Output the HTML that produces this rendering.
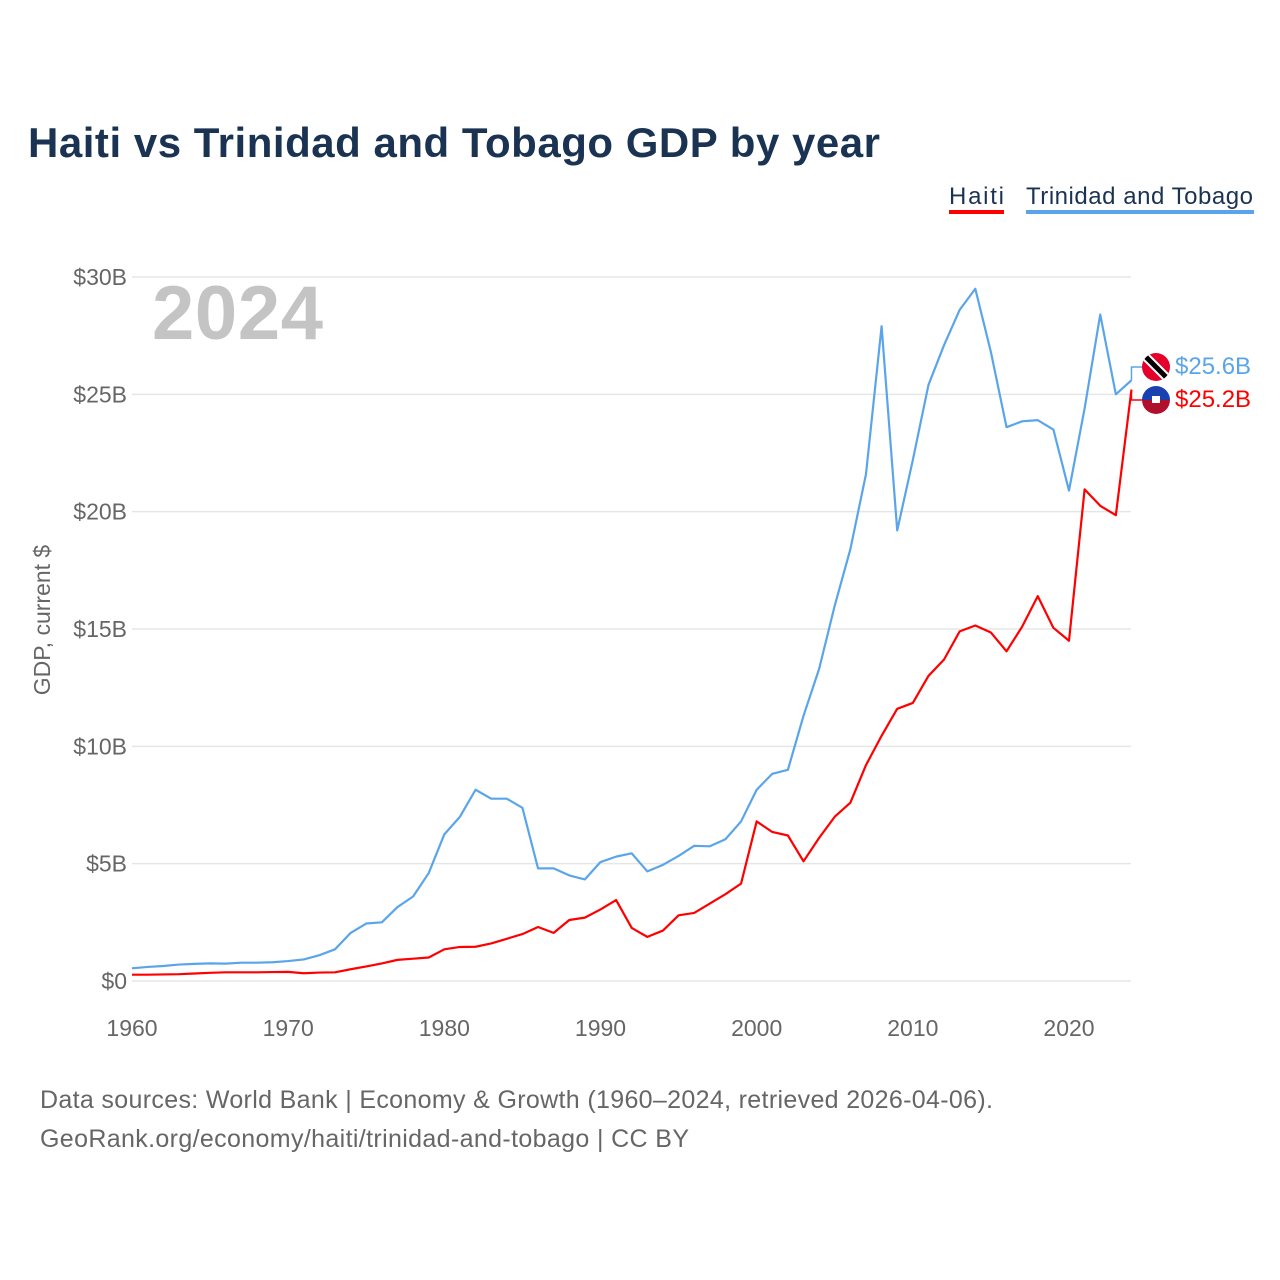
<!DOCTYPE html>
<html><head><meta charset="utf-8"><style>
body{margin:0;background:#fff;font-family:"Liberation Sans",sans-serif}
#wrap{position:relative;width:1280px;height:1280px;overflow:hidden}
</style></head><body>
<div id="wrap">
<svg id="chart" width="1280" height="1280" style="font-family:'Liberation Sans',sans-serif">
<text x="28" y="157" font-size="42" font-weight="bold" fill="#1b3352" textLength="852">Haiti vs Trinidad and Tobago GDP by year</text>
<g>
<text x="949" y="204" font-size="24" fill="#1b3352" textLength="55">Haiti</text>
<rect x="949" y="210" width="55" height="4" fill="#ff0000"/>
<text x="1026" y="204" font-size="24" fill="#1b3352" textLength="227">Trinidad and Tobago</text>
<rect x="1026" y="210" width="228" height="4" fill="#5aa5ea"/>
</g>
<text x="152" y="339" font-size="76" font-weight="bold" fill="#c4c4c4" textLength="171">2024</text>
<text transform="translate(50,620) rotate(-90)" text-anchor="middle" font-size="23" fill="#666">GDP, current $</text>
<g id="grid"></g><g id="series"></g><g id="ends"></g>
<text x="40" y="1108" font-size="25" fill="#666" textLength="953">Data sources: World Bank | Economy &amp; Growth (1960–2024, retrieved 2026-04-06).</text>
<text x="40" y="1147" font-size="25" fill="#666" textLength="649">GeoRank.org/economy/haiti/trinidad-and-tobago | CC BY</text>
</svg>
</div>
<script>
const years=[];for(let y=1960;y<=2024;y++)years.push(y);
const haiti=[0.27,0.27,0.28,0.29,0.32,0.35,0.37,0.37,0.37,0.38,0.39,0.33,0.36,0.37,0.5,0.62,0.75,0.9,0.95,1.0,1.35,1.45,1.46,1.6,1.8,2.0,2.3,2.05,2.6,2.7,3.05,3.45,2.26,1.88,2.15,2.8,2.9,3.3,3.7,4.15,6.8,6.35,6.2,5.1,6.1,7.0,7.6,9.2,10.45,11.6,11.85,13.0,13.7,14.9,15.15,14.85,14.05,15.1,16.4,15.05,14.5,20.95,20.25,19.85,25.2];
const trinidad=[0.54,0.6,0.64,0.7,0.73,0.75,0.74,0.78,0.78,0.8,0.85,0.92,1.1,1.35,2.05,2.45,2.5,3.15,3.6,4.6,6.25,7.0,8.15,7.77,7.77,7.38,4.8,4.8,4.5,4.33,5.07,5.3,5.44,4.67,4.95,5.33,5.76,5.74,6.04,6.8,8.15,8.83,9.0,11.3,13.3,16.0,18.4,21.6,27.9,19.2,22.2,25.4,27.1,28.6,29.5,26.8,23.6,23.85,23.9,23.5,20.9,24.4,28.4,25.0,25.6];
const yTicks=[0,5,10,15,20,25,30];
const yTickLabels=["$0","$5B","$10B","$15B","$20B","$25B","$30B"];
const xTicks=[1960,1970,1980,1990,2000,2010,2020];
const ns="http://www.w3.org/2000/svg";
const X=y=>132+(y-1960)*(937/60);
const Y=v=>981-v*(704/30);
function mk(t,a,p){const e=document.createElementNS(ns,t);for(const k in a)e.setAttribute(k,a[k]);p.appendChild(e);return e;}
const grid=document.getElementById('grid');
yTicks.forEach((v,i)=>{
 const l=mk('line',{x1:132,x2:1131,y1:Y(v),y2:Y(v),stroke:'#e6e6e6','stroke-width':1.5},grid);
 
 
 const t=mk('text',{x:127,y:Y(v)+8,'text-anchor':'end','font-size':23,fill:'#666'},grid);
 t.textContent=yTickLabels[i];
 
 
});
xTicks.forEach(v=>{
 const t=mk('text',{x:X(v),y:1036,'text-anchor':'middle','font-size':23,fill:'#666'},grid);
 t.textContent=v;
 
 
});
const s=document.getElementById('series');
const pb=mk('polyline',{points:years.map((y,i)=>X(y)+','+Y(trinidad[i])).join(' '),fill:'none',stroke:'#5aa5ea','stroke-width':2.2,'stroke-linejoin':'round'},s);


const pr=mk('polyline',{points:years.map((y,i)=>X(y)+','+Y(haiti[i])).join(' '),fill:'none',stroke:'#ff0000','stroke-width':2.2,'stroke-linejoin':'round'},s);


const e=document.getElementById('ends');
const lx=X(2024),cx=1156;
const tb=Y(trinidad[trinidad.length-1]),hb=Y(haiti[haiti.length-1]);
mk('polyline',{points:`${lx},${tb} ${lx},367 ${cx-14},367`,fill:'none',stroke:'#5aa5ea','stroke-width':1.5},e);
mk('polyline',{points:`${lx},${hb} ${lx},400 ${cx-14},400`,fill:'none',stroke:'#ff0000','stroke-width':1.5},e);
const d=mk('defs',{},e);
const c1=mk('clipPath',{id:'c1'},d);mk('circle',{cx:cx,cy:367,r:14},c1);
const c2=mk('clipPath',{id:'c2'},d);mk('circle',{cx:cx,cy:400,r:14},c2);
const f1=mk('g',{'clip-path':'url(#c1)'},e);


mk('rect',{x:cx-14,y:353,width:28,height:28,fill:'#e4002b'},f1);
mk('line',{x1:cx-14,y1:353,x2:cx+14,y2:381,stroke:'#fff','stroke-width':9},f1);
mk('line',{x1:cx-14,y1:353,x2:cx+14,y2:381,stroke:'#000','stroke-width':5},f1);
const f2=mk('g',{'clip-path':'url(#c2)'},e);


mk('rect',{x:cx-14,y:386,width:28,height:14,fill:'#1942b0'},f2);
mk('rect',{x:cx-14,y:400,width:28,height:14,fill:'#b1102c'},f2);
mk('rect',{x:cx-4,y:396,width:8,height:7,fill:'#fff'},f2);
const t1=mk('text',{x:1175,y:374,'font-size':24,fill:'#5aa5ea'},e);
t1.textContent='$'+trinidad[trinidad.length-1].toFixed(1)+'B';


const t2=mk('text',{x:1175,y:407,'font-size':24,fill:'#ff0000'},e);
t2.textContent='$'+haiti[haiti.length-1].toFixed(1)+'B';


</script>
</body></html>
